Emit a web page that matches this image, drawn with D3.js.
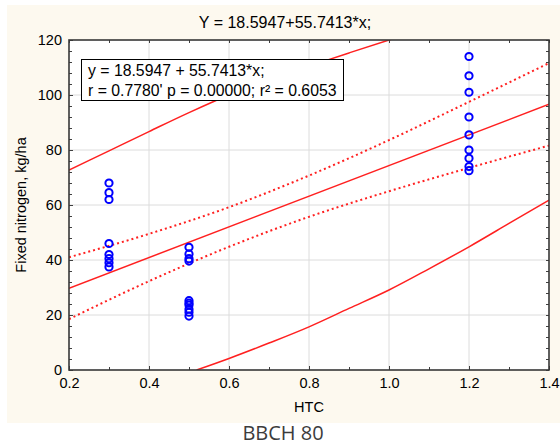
<!DOCTYPE html>
<html lang="en">
	<head>
		<meta charset="utf-8">
		<title>Fixed nitrogen vs HTC</title>
		<script src="https://d3js.org/d3.v7.min.js"></script>
		<style type="text/css">
			body { margin: 0; background: #ffffff; }
			svg text { font-family: Arial, "Liberation Sans", sans-serif; }
		</style>
	</head>
	<body>
		<script type="text/javascript">
			//Observed points, grouped by HTC value
			let htc = [0.3, 0.5, 1.2];
			let nitrogen = [
				[68, 64.5, 62, 46, 42, 40.5, 39, 37.5],
				[44.6, 42.2, 40.5, 39.6, 25.2, 24.3, 23.6, 22.1, 21.0, 19.6],
				[114, 107, 101, 92, 85.5, 80, 77, 74, 72.5]
			];

			//Fitted line, as printed on the chart
			let intercept = 18.5947;
			let slope = 55.7413;

			//Dotted band
			let confX = [0.2, 0.4, 0.6, 0.8, 1.0, 1.2, 1.4];
			let confUpper = [41, 49.5, 59.2, 70.7, 83.6, 97.5, 111.6];
			let confLower = [18.5, 32.3, 44.8, 55.7, 65, 73.5, 81.6];

			//Solid outer band
			let predUpperX = [0.2, 0.3, 0.4, 0.5, 0.6, 0.7, 0.8, 0.9, 1.0, 1.1];
			let predUpper = [72.7, 79.7, 86.7, 93.6, 100, 105.5, 110.5, 115.3, 120, 124.5];
			let predLowerX = [0.519, 0.6, 0.7, 0.8, 0.9, 1.0, 1.1, 1.2, 1.3, 1.4];
			let predLower = [0, 4.2, 9.8, 15.7, 22.4, 29.1, 36.8, 44.8, 53.3, 61.8];

			//Axis ticks
			let xTicks = [0.2, 0.4, 0.6, 0.8, 1.0, 1.2, 1.4];
			let yTicks = [0, 20, 40, 60, 80, 100, 120];

			let title = "Y = 18.5947+55.7413*x;";
			let legendLines = ["y = 18.5947 + 55.7413*x;", "r = 0.7780' p = 0.00000; r\u00b2 = 0.6053"];

			//Size and plot box
			let w = 560;
			let h = 446;
			let pLeft = 69, pRight = 549, pTop = 40, pBottom = 370;

			let svg = d3.select("body")
						.append("svg")
						.attr("width", w)
						.attr("height", h);

			//Cream panel
			svg.append("rect")
				.attr("x", 7)
				.attr("y", 5)
				.attr("width", w - 7)
				.attr("height", 418)
				.attr("fill", "#fdf9ef");

			svg.append("rect")
				.attr("x", pLeft)
				.attr("y", pTop)
				.attr("width", pRight - pLeft)
				.attr("height", pBottom - pTop)
				.attr("fill", "#ffffff");

			//Scales
			let xScale = d3.scaleLinear().domain([0.2, 1.4]).range([pLeft, pRight]);
			let yScale = d3.scaleLinear().domain([0, 120]).range([pBottom, pTop]);

			//Grid
			svg.append("g")
				.selectAll("line")
				.data(xTicks.slice(1, -1))
				.enter()
				.append("line")
				.attr("x1", d => xScale(d))
				.attr("x2", d => xScale(d))
				.attr("y1", pTop)
				.attr("y2", pBottom)
				.attr("stroke", "#dcdcdc")
				.attr("stroke-width", 1);
			svg.append("g")
				.selectAll("line")
				.data(yTicks.slice(1, -1))
				.enter()
				.append("line")
				.attr("x1", pLeft)
				.attr("x2", pRight)
				.attr("y1", d => yScale(d))
				.attr("y2", d => yScale(d))
				.attr("stroke", "#dcdcdc")
				.attr("stroke-width", 1);

			svg.append("clipPath")
				.attr("id", "chart-area")
				.append("rect")
				.attr("x", pLeft)
				.attr("y", pTop)
				.attr("width", pRight - pLeft)
				.attr("height", pBottom - pTop);

			let lines = svg.append("g").attr("clip-path", "url(#chart-area)");

			let bandLine = d3.line()
				.x(d => xScale(d[0]))
				.y(d => yScale(d[1]))
				.curve(d3.curveMonotoneX);

			//Solid outer band
			lines.append("path")
				.datum(d3.zip(predUpperX, predUpper))
				.attr("d", bandLine)
				.attr("fill", "none")
				.attr("stroke", "#ff2020")
				.attr("stroke-width", 1.5);
			lines.append("path")
				.datum(d3.zip(predLowerX, predLower))
				.attr("d", bandLine)
				.attr("fill", "none")
				.attr("stroke", "#ff2020")
				.attr("stroke-width", 1.5);

			//Dotted band
			[confUpper, confLower].forEach(function(vals) {
				lines.append("path")
					.datum(d3.zip(confX, vals))
					.attr("d", bandLine)
					.attr("fill", "none")
					.attr("stroke", "#ff2020")
					.attr("stroke-width", 2)
					.attr("stroke-dasharray", "2,3");
			});

			//Fitted line
			lines.append("line")
				.attr("x1", xScale(0.2))
				.attr("y1", yScale(intercept + slope * 0.2))
				.attr("x2", xScale(1.4))
				.attr("y2", yScale(intercept + slope * 1.4))
				.attr("stroke", "#ff2020")
				.attr("stroke-width", 1.5);

			//Points
			let points = [];
			htc.forEach(function(x, i) {
				nitrogen[i].forEach(function(v) { points.push([x, v]); });
			});
			svg.append("g")
				.attr("id", "circles")
				.selectAll("circle")
				.data(points)
				.enter()
				.append("circle")
				.attr("cx", d => xScale(d[0]))
				.attr("cy", d => yScale(d[1]))
				.attr("r", 3.6)
				.attr("fill", "none")
				.attr("stroke", "#0000ff")
				.attr("stroke-width", 2);

			//Axes, ticks pointing inwards
			let xMinor = d3.range(0.2, 1.41, 0.1);
			let yMinor = d3.range(0, 121, 4);
			function styleAxis(g) {
				g.select(".domain").remove();
				g.selectAll("line").attr("stroke", "#404040");
				g.selectAll("text")
					.attr("fill", "#000000")
					.style("font-size", "14.5px");
			}
			svg.append("g")
				.attr("transform", "translate(0," + pBottom + ")")
				.call(d3.axisBottom(xScale).tickValues(xMinor).tickSize(-3).tickFormat(""))
				.call(styleAxis);
			svg.append("g")
				.attr("transform", "translate(0," + pBottom + ")")
				.call(d3.axisBottom(xScale).tickValues(xTicks).tickSize(-4).tickPadding(8).tickFormat(d3.format(".1f")))
				.call(styleAxis);
			svg.append("g")
				.attr("transform", "translate(0," + pTop + ")")
				.call(d3.axisTop(xScale).tickValues(xMinor).tickSize(-3).tickFormat(""))
				.call(styleAxis);
			svg.append("g")
				.attr("transform", "translate(" + pLeft + ",0)")
				.call(d3.axisLeft(yScale).tickValues(yMinor).tickSize(-3).tickFormat(""))
				.call(styleAxis);
			svg.append("g")
				.attr("transform", "translate(" + pLeft + ",0)")
				.call(d3.axisLeft(yScale).tickValues(yTicks).tickSize(-4).tickPadding(7))
				.call(styleAxis);
			svg.append("g")
				.attr("transform", "translate(" + pRight + ",0)")
				.call(d3.axisRight(yScale).tickValues(yMinor).tickSize(-3).tickFormat(""))
				.call(styleAxis);

			//Frame
			svg.append("rect")
				.attr("x", pLeft)
				.attr("y", pTop)
				.attr("width", pRight - pLeft)
				.attr("height", pBottom - pTop)
				.attr("fill", "none")
				.attr("stroke", "#383838")
				.attr("stroke-width", 1.6);

			//Legend box
			svg.append("rect")
				.attr("x", 81.5)
				.attr("y", 59.5)
				.attr("width", 262)
				.attr("height", 41)
				.attr("fill", "#ffffff")
				.attr("stroke", "#000000")
				.attr("stroke-width", 1);
			svg.selectAll(".legend-text")
				.data(legendLines)
				.enter()
				.append("text")
				.attr("class", "legend-text")
				.attr("x", 88)
				.attr("y", (d, i) => 75.5 + i * 20)
				.style("font-size", "15.8px")
				.text(d => d);

			//Titles
			svg.append("text")
				.attr("x", 285)
				.attr("y", 28)
				.attr("text-anchor", "middle")
				.style("font-size", "16px")
				.text(title);
			svg.append("text")
				.attr("x", (pLeft + pRight) / 2)
				.attr("y", 412)
				.attr("text-anchor", "middle")
				.style("font-size", "14.5px")
				.text("HTC");
			svg.append("text")
				.attr("transform", "translate(26," + (pTop + pBottom) / 2 + ") rotate(-90)")
				.attr("text-anchor", "middle")
				.style("font-size", "14.5px")
				.text("Fixed nitrogen, kg/ha");
			svg.append("text")
				.attr("x", 283)
				.attr("y", 440)
				.attr("text-anchor", "middle")
				.style("font-family", "'Open Sans', sans-serif")
				.style("font-size", "20px")
				.attr("fill", "#3c3c3c")
				.text("BBCH 80");
		</script>
	</body>
</html>
